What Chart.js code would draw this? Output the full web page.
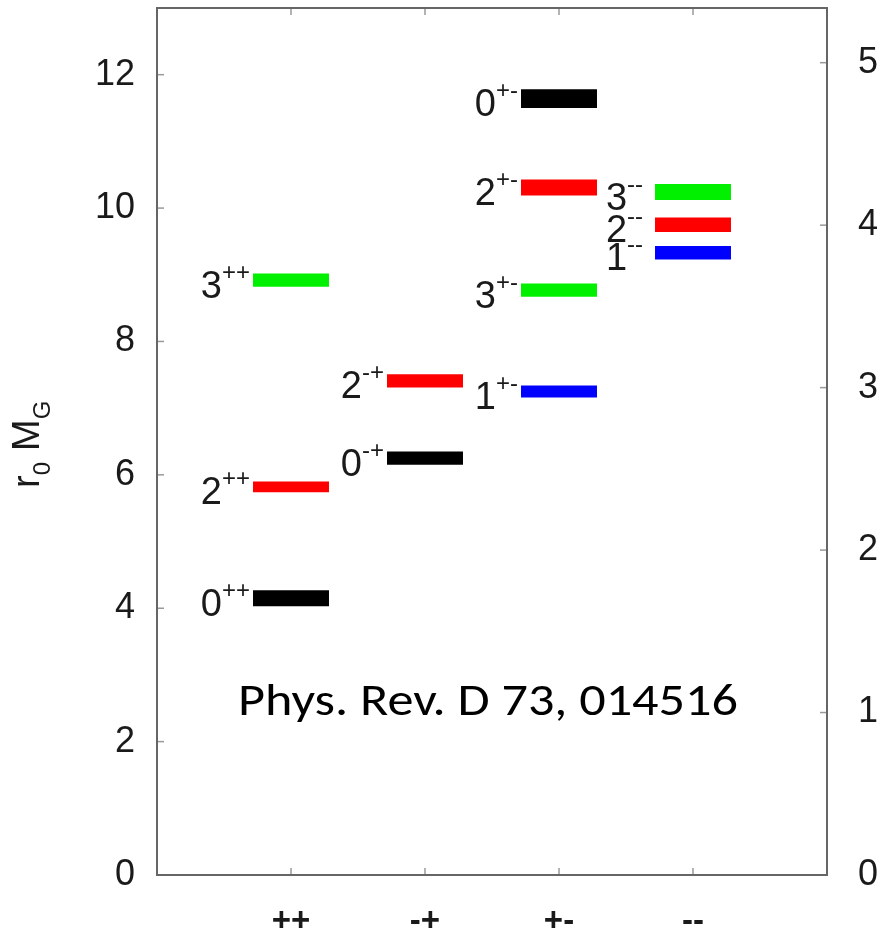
<!DOCTYPE html>
<html>
<head>
<meta charset="utf-8">
<script src="https://cdn.jsdelivr.net/npm/chart.js@4.4.0/dist/chart.umd.min.js"></script>
<style>
  html, body { margin: 0; padding: 0; background: #fff; }
  #wrap { width: 879px; height: 934px; position: relative; }
</style>
</head>
<body>
<div id="wrap"><canvas id="glueballs"></canvas></div>
<script>
// PC channels along the bottom
const pcLabels = ["++", "-+", "+-", "--"];

// r0 * M_G for each channel, one list per spin J (null = no state shown)
const massJ0 = [4.15, 6.25, 11.64, null];
const massJ1 = [null, null, 7.25, 9.33];
const massJ2 = [5.82, 7.41, 10.31, 9.75];
const massJ3 = [8.92, null, 8.77, 10.24];

// half thickness of each level bar (uncertainty), same layout
const errJ0 = [0.12, 0.10, 0.14, null];
const errJ1 = [null, null, 0.09, 0.10];
const errJ2 = [0.08, 0.10, 0.12, 0.11];
const errJ3 = [0.10, null, 0.10, 0.12];

const leftTicks = [0, 2, 4, 6, 8, 10, 12];
const rightTicks = [0, 1, 2, 3, 4, 5];
const yMax = 13;
const r0GeV = 2.436; // r0 in GeV^-1, right axis = M_G in GeV
const citation = "Phys. Rev. D 73, 014516";

const spinColors = ["#000000", "#0000ff", "#ff0000", "#00f000"];
const spinData = [
  { mass: massJ0, err: errJ0 },
  { mass: massJ1, err: errJ1 },
  { mass: massJ2, err: errJ2 },
  { mass: massJ3, err: errJ3 },
];

function levels(mass, err) {
  const out = [];
  mass.forEach((m, i) => {
    if (m !== null) out.push({ x: pcLabels[i], y: [m - err[i], m + err[i]] });
  });
  return out;
}

const FONT = "'Liberation Sans', Arial, sans-serif";
const tickFont = { family: FONT, size: 36 };
const noGrid = { display: false, drawTicks: false };

// no extra room for half tick labels, the plot box is fixed
function noPad(s) {
  s.paddingTop = 0;
  s.paddingBottom = 0;
  s.paddingLeft = 0;
  s.paddingRight = 0;
}

// frame and the small inward ticks, gnuplot style
const framePlugin = {
  id: "frame",
  afterDatasetsDraw(chart) {
    const { ctx, chartArea: a, scales } = chart;
    ctx.save();
    ctx.strokeStyle = "#9a9a9a";
    ctx.lineWidth = 1.5;
    const len = 7;
    scales.y.ticks.forEach((t) => {
      const y = scales.y.getPixelForValue(t.value);
      ctx.beginPath(); ctx.moveTo(a.left, y); ctx.lineTo(a.left + len, y); ctx.stroke();
    });
    scales.y2.ticks.forEach((t) => {
      const y = scales.y2.getPixelForValue(t.value);
      ctx.beginPath(); ctx.moveTo(a.right, y); ctx.lineTo(a.right - len, y); ctx.stroke();
    });
    pcLabels.forEach((lab) => {
      const x = scales.x.getPixelForValue(scales.x.getLabels().indexOf(lab));
      ctx.beginPath(); ctx.moveTo(x, a.bottom); ctx.lineTo(x, a.bottom - len); ctx.stroke();
      ctx.beginPath(); ctx.moveTo(x, a.top); ctx.lineTo(x, a.top + len); ctx.stroke();
    });
    ctx.strokeStyle = "#666";
    ctx.lineWidth = 2;
    ctx.strokeRect(a.left, a.top, a.right - a.left, a.bottom - a.top);
    ctx.restore();
  },
};

// "J^PC" labels to the left of every level
const levelLabels = {
  id: "levelLabels",
  afterDatasetsDraw(chart) {
    const { ctx } = chart;
    ctx.save();
    ctx.fillStyle = "#1a1a1a";
    chart.data.datasets.forEach((ds, di) => {
      const meta = chart.getDatasetMeta(di);
      meta.data.forEach((bar, i) => {
        const pc = ds.data[i].x;
        const cy = (bar.y + bar.base) / 2;
        const gap = pc === "--" ? 12 : 3;
        const right = bar.x - bar.width / 2 - gap;
        ctx.textAlign = "right";
        ctx.textBaseline = "alphabetic";
        ctx.font = "24px " + FONT;
        const supW = ctx.measureText(pc).width;
        ctx.fillText(pc, right, cy - 0.5);
        ctx.font = "38px " + FONT;
        ctx.fillText(String(ds.spin), right - supW, cy + 17.5);
      });
    });
    ctx.restore();
  },
};

// axis title r0 M_G and the citation text
const extraText = {
  id: "extraText",
  afterDraw(chart) {
    const { ctx } = chart;
    ctx.save();
    ctx.fillStyle = "#1a1a1a";
    ctx.translate(39, 488);
    ctx.rotate(-Math.PI / 2);
    ctx.textAlign = "left";
    ctx.textBaseline = "alphabetic";
    let x = 0;
    const piece = (txt, size, dy) => {
      ctx.font = size + "px " + FONT;
      ctx.fillText(txt, x, dy);
      x += ctx.measureText(txt).width;
    };
    piece("r", 38, 0);
    piece("0", 24, 11);
    x += 11;
    piece("M", 38, 0);
    piece("G", 24, 11);
    ctx.restore();

    ctx.save();
    ctx.fillStyle = "#000";
    ctx.font = "46px Carlito, Lato, 'Open Sans', sans-serif";
    ctx.textAlign = "left";
    ctx.textBaseline = "alphabetic";
    const w = ctx.measureText(citation).width;
    ctx.translate(238, 715);
    ctx.scale(500 / w, 1);
    ctx.fillText(citation, 0, 0);
    ctx.restore();
  },
};

new Chart(document.getElementById("glueballs"), {
  type: "bar",
  data: {
    datasets: spinData.map((s, j) => ({
      spin: j,
      data: levels(s.mass, s.err),
      backgroundColor: spinColors[j],
      borderWidth: 0,
      borderSkipped: false,
      grouped: false,
      categoryPercentage: 1,
      barPercentage: 0.567,
      yAxisID: "y",
    })),
  },
  options: {
    responsive: true,
    maintainAspectRatio: false,
    animation: false,
    layout: { padding: { top: 8, left: 0, right: 0, bottom: 0 } },
    plugins: { legend: { display: false }, tooltip: { enabled: false } },
    scales: {
      x: {
        type: "category",
        labels: ["", ...pcLabels, ""],
        offset: false,
        grid: noGrid,
        border: { display: false },
        ticks: { font: { family: FONT, size: 33, weight: "bold" }, color: "#1a1a1a", padding: 27, autoSkip: false, maxRotation: 0 },
        afterFit: (s) => { s.height = 59; noPad(s); },
      },
      y: {
        type: "linear",
        position: "left",
        min: 0,
        max: yMax,
        grid: noGrid,
        border: { display: false },
        ticks: { font: tickFont, color: "#1a1a1a", padding: 22 },
        afterBuildTicks: (s) => { s.ticks = leftTicks.map((v) => ({ value: v })); },
        afterFit: (s) => { s.width = 157; noPad(s); },
      },
      y2: {
        type: "linear",
        position: "right",
        min: 0,
        max: yMax / r0GeV,
        grid: noGrid,
        border: { display: false },
        ticks: { font: tickFont, color: "#1a1a1a", padding: 31 },
        afterBuildTicks: (s) => { s.ticks = rightTicks.map((v) => ({ value: v })); },
        afterFit: (s) => { s.width = 52; noPad(s); },
      },
    },
  },
  plugins: [framePlugin, levelLabels, extraText],
});
</script>
</body>
</html>
